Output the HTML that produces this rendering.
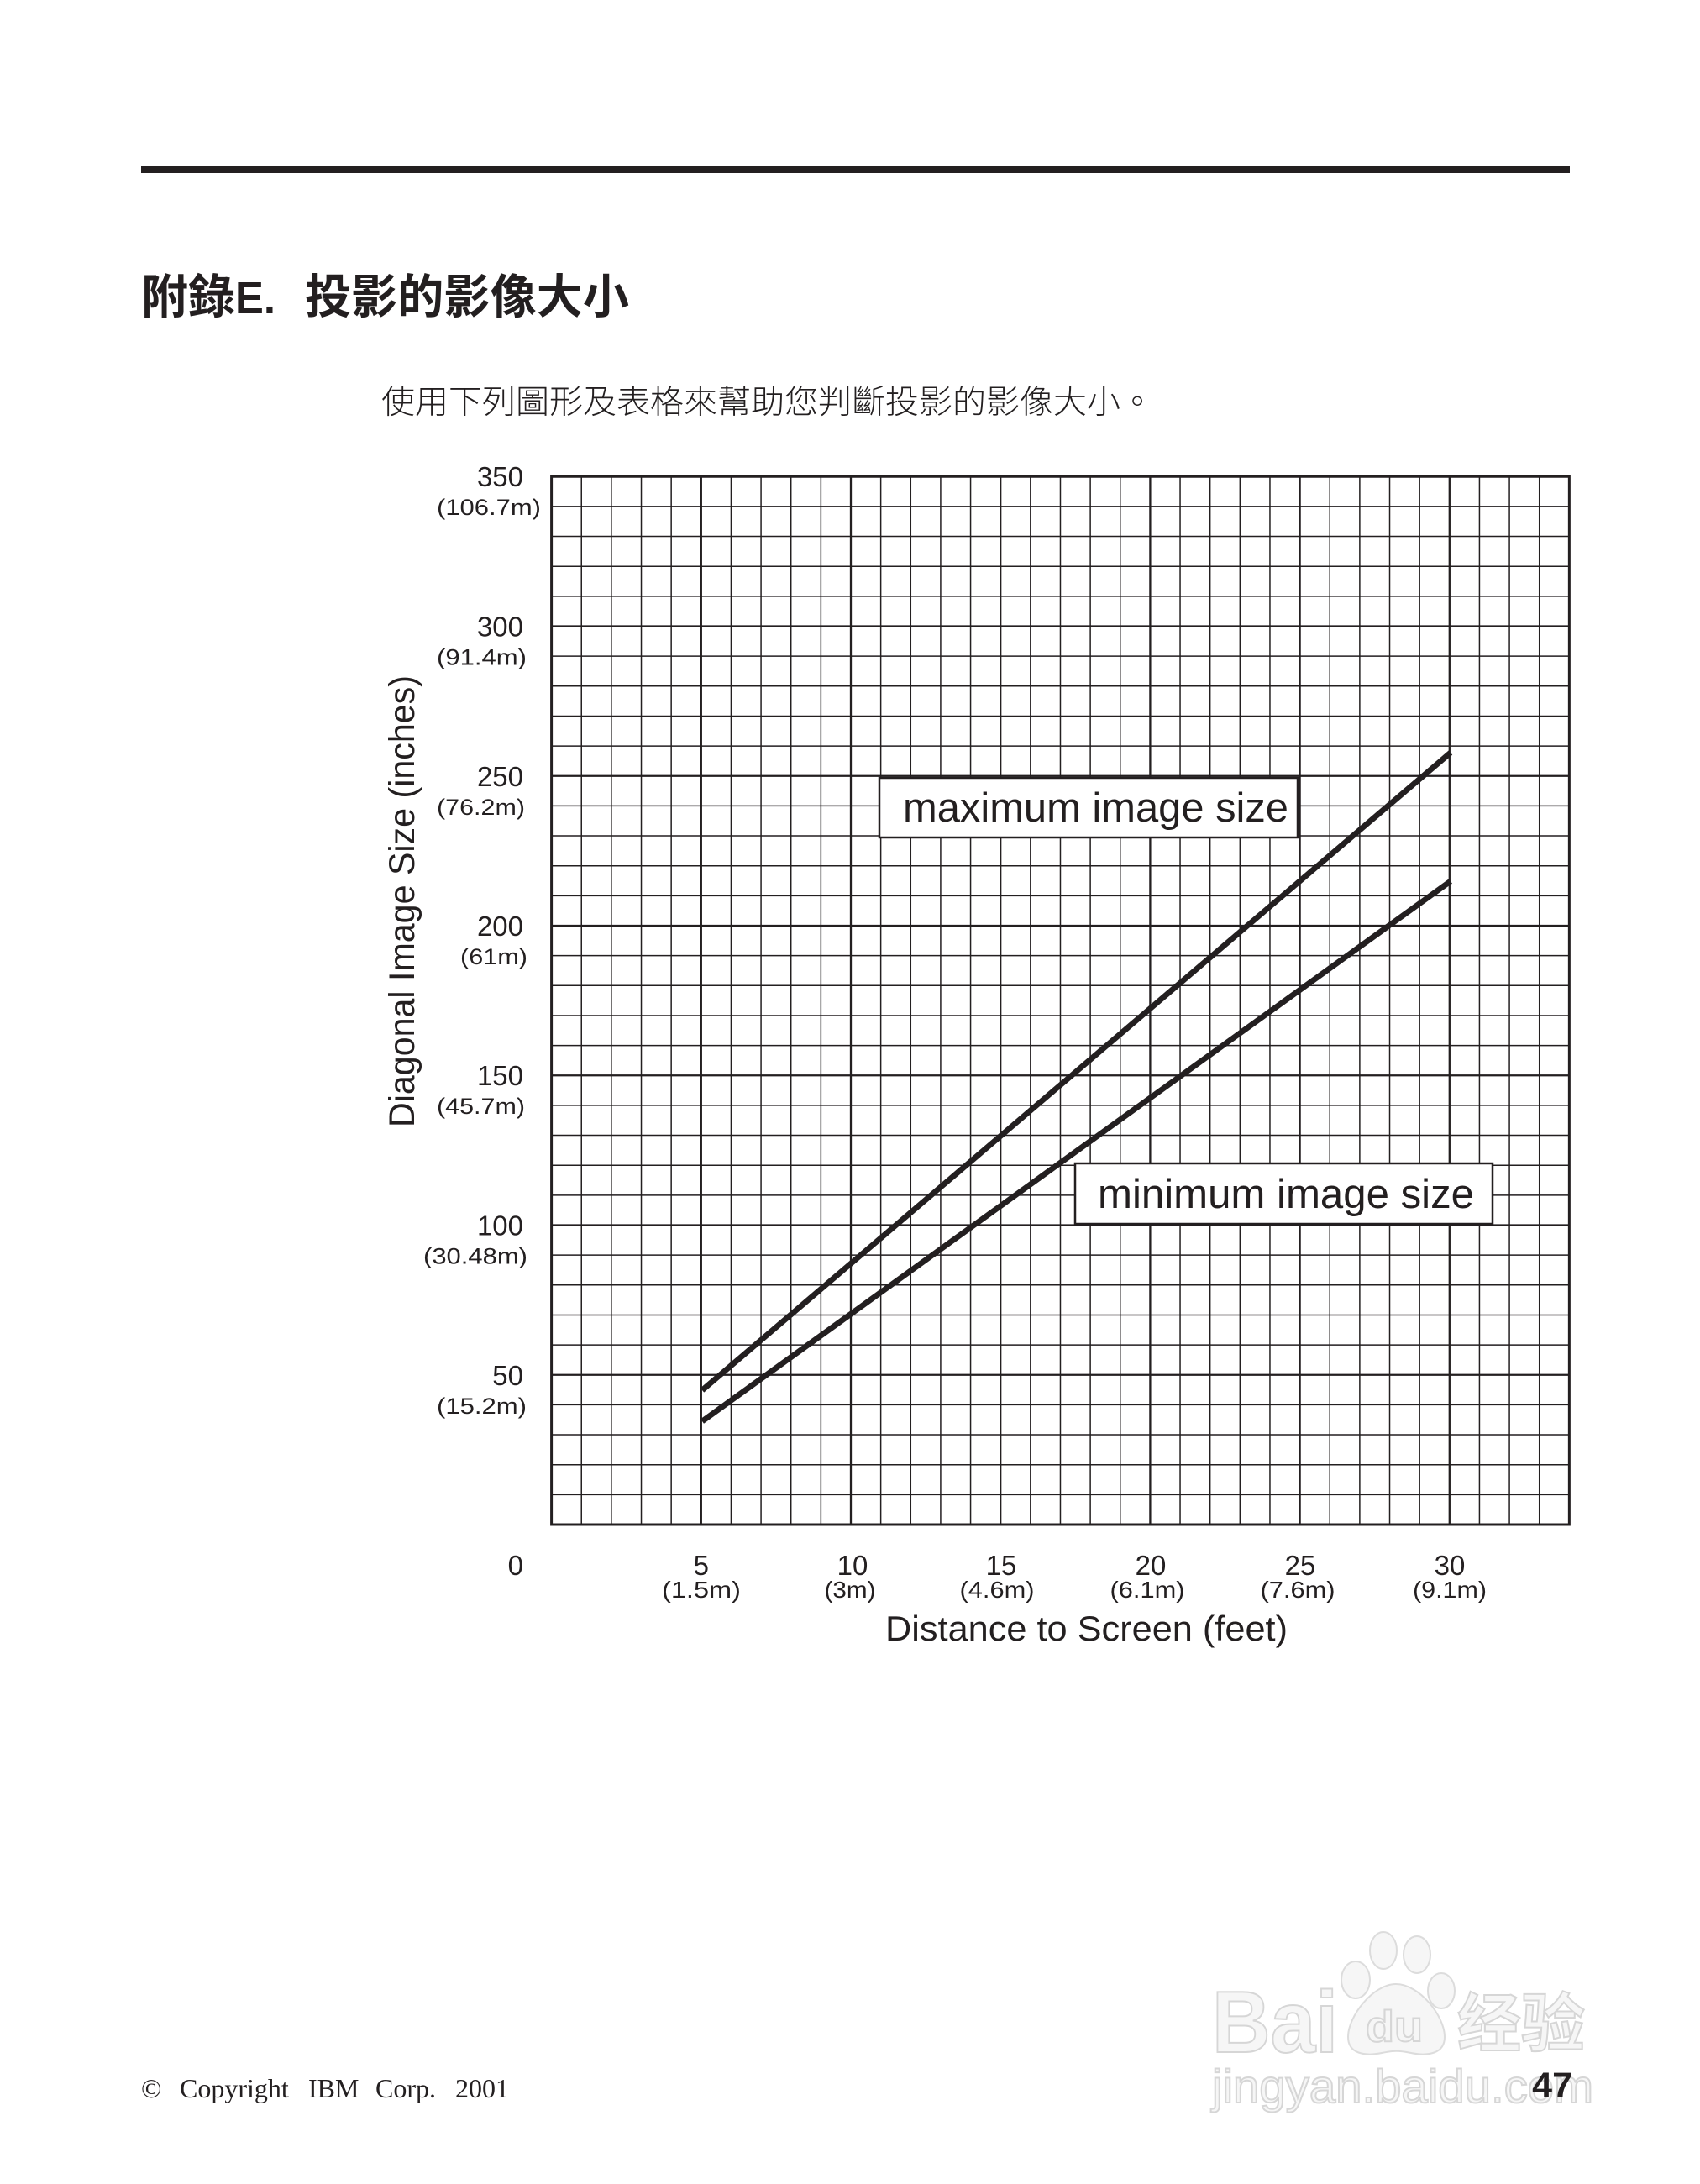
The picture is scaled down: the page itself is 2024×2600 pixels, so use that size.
<!DOCTYPE html>
<html>
<head>
<meta charset="utf-8">
<style>
html,body{margin:0;padding:0;background:#fff;}
body{width:2024px;height:2600px;overflow:hidden;}
svg{display:block;}
</style>
</head>
<body>
<svg width="2024" height="2600" viewBox="0 0 2024 2600" xmlns="http://www.w3.org/2000/svg">
<rect x="0" y="0" width="2024" height="2600" fill="#fff"/>

<!-- top rule -->
<rect x="168" y="198" width="1701" height="8" fill="#231f20"/>

<!-- title -->
<g fill="#231f20" font-family="'Liberation Sans','Noto Sans CJK TC','Noto Sans CJK SC',sans-serif" font-weight="bold">
<text x="168" y="373" font-size="56">附錄</text>
<text x="280" y="373" font-size="54" textLength="48" lengthAdjust="spacingAndGlyphs">E.</text>
<text x="363" y="373" font-size="56" textLength="386" lengthAdjust="spacingAndGlyphs">投影的影像大小</text>
</g>

<!-- subtitle -->
<text x="454" y="492" font-size="39" font-weight="300" fill="#231f20" font-family="'Liberation Sans','Noto Sans CJK TC','Noto Sans CJK SC',sans-serif" textLength="920" lengthAdjust="spacingAndGlyphs">使用下列圖形及表格來幫助您判斷投影的影像大小。</text>

<!-- grid minor -->
<path fill="none" stroke="#231f20" stroke-width="1.5" d="M692.24 567.25V1815M727.88 567.25V1815M763.52 567.25V1815M799.16 567.25V1815M870.44 567.25V1815M906.08 567.25V1815M941.72 567.25V1815M977.36 567.25V1815M1048.64 567.25V1815M1084.28 567.25V1815M1119.92 567.25V1815M1155.56 567.25V1815M1226.84 567.25V1815M1262.48 567.25V1815M1298.12 567.25V1815M1333.76 567.25V1815M1405.04 567.25V1815M1440.68 567.25V1815M1476.32 567.25V1815M1511.96 567.25V1815M1583.24 567.25V1815M1618.88 567.25V1815M1654.52 567.25V1815M1690.16 567.25V1815M1761.44 567.25V1815M1797.08 567.25V1815M1832.72 567.25V1815
M656.6 1779.35H1868.36M656.6 1743.7H1868.36M656.6 1708.05H1868.36M656.6 1672.4H1868.36M656.6 1601.1H1868.36M656.6 1565.45H1868.36M656.6 1529.8H1868.36M656.6 1494.15H1868.36M656.6 1422.85H1868.36M656.6 1387.2H1868.36M656.6 1351.55H1868.36M656.6 1315.9H1868.36M656.6 1244.6H1868.36M656.6 1208.95H1868.36M656.6 1173.3H1868.36M656.6 1137.65H1868.36M656.6 1066.35H1868.36M656.6 1030.7H1868.36M656.6 995.05H1868.36M656.6 959.4H1868.36M656.6 888.1H1868.36M656.6 852.45H1868.36M656.6 816.8H1868.36M656.6 781.15H1868.36M656.6 709.85H1868.36M656.6 674.2H1868.36M656.6 638.55H1868.36M656.6 602.9H1868.36"/>
<!-- grid major -->
<path fill="none" stroke="#231f20" stroke-width="2.3" d="M834.8 567.25V1815M1013 567.25V1815M1191.2 567.25V1815M1369.4 567.25V1815M1547.6 567.25V1815M1725.8 567.25V1815
M656.6 1636.75H1868.36M656.6 1458.5H1868.36M656.6 1280.25H1868.36M656.6 1102H1868.36M656.6 923.75H1868.36M656.6 745.5H1868.36"/>
<!-- border -->
<rect x="656.6" y="567.25" width="1211.76" height="1247.75" fill="none" stroke="#231f20" stroke-width="3"/>

<!-- data lines -->
<line x1="836" y1="1655" x2="1727" y2="896" stroke="#231f20" stroke-width="6.8"/>
<line x1="836" y1="1692" x2="1727" y2="1049" stroke="#231f20" stroke-width="6.8"/>

<!-- label boxes -->
<rect x="1047" y="926" width="498" height="71" fill="#fff" stroke="#231f20" stroke-width="2.5"/>
<text x="1075" y="978" font-size="49" fill="#231f20" font-family="'Liberation Sans',sans-serif" textLength="459" lengthAdjust="spacingAndGlyphs">maximum image size</text>
<rect x="1280" y="1385" width="497" height="72" fill="#fff" stroke="#231f20" stroke-width="2.5"/>
<text x="1307" y="1438" font-size="49" fill="#231f20" font-family="'Liberation Sans',sans-serif" textLength="448" lengthAdjust="spacingAndGlyphs">minimum image size</text>

<!-- y tick numbers -->
<g fill="#231f20" font-family="'Liberation Sans',sans-serif" font-size="33" text-anchor="end">
<text x="623" y="579">350</text>
<text x="623" y="757.5">300</text>
<text x="623" y="936">250</text>
<text x="623" y="1114">200</text>
<text x="623" y="1292">150</text>
<text x="623" y="1470.5">100</text>
<text x="623" y="1649">50</text>
<text x="623" y="1875">0</text>
</g>
<!-- y meter labels -->
<g fill="#231f20" font-family="'Liberation Sans',sans-serif" font-size="27">
<text x="520" y="613" textLength="124" lengthAdjust="spacingAndGlyphs">(106.7m)</text>
<text x="520" y="791.5" textLength="107" lengthAdjust="spacingAndGlyphs">(91.4m)</text>
<text x="520" y="970" textLength="105" lengthAdjust="spacingAndGlyphs">(76.2m)</text>
<text x="548" y="1148" textLength="80" lengthAdjust="spacingAndGlyphs">(61m)</text>
<text x="520" y="1326" textLength="105" lengthAdjust="spacingAndGlyphs">(45.7m)</text>
<text x="504" y="1504.5" textLength="124" lengthAdjust="spacingAndGlyphs">(30.48m)</text>
<text x="520" y="1683" textLength="107" lengthAdjust="spacingAndGlyphs">(15.2m)</text>
</g>

<!-- x tick numbers -->
<g fill="#231f20" font-family="'Liberation Sans',sans-serif" font-size="33" text-anchor="middle">
<text x="834.8" y="1875">5</text>
<text x="1015" y="1875">10</text>
<text x="1192" y="1875">15</text>
<text x="1370" y="1875">20</text>
<text x="1548" y="1875">25</text>
<text x="1726" y="1875">30</text>
</g>
<g fill="#231f20" font-family="'Liberation Sans',sans-serif" font-size="28" text-anchor="middle">
<text x="835" y="1902" textLength="94" lengthAdjust="spacingAndGlyphs">(1.5m)</text>
<text x="1012" y="1902" textLength="61" lengthAdjust="spacingAndGlyphs">(3m)</text>
<text x="1187" y="1902" textLength="89" lengthAdjust="spacingAndGlyphs">(4.6m)</text>
<text x="1366" y="1902" textLength="89" lengthAdjust="spacingAndGlyphs">(6.1m)</text>
<text x="1545" y="1902" textLength="89" lengthAdjust="spacingAndGlyphs">(7.6m)</text>
<text x="1726" y="1902" textLength="88" lengthAdjust="spacingAndGlyphs">(9.1m)</text>
</g>

<!-- axis titles -->
<text x="1293.5" y="1953" font-size="42" fill="#231f20" font-family="'Liberation Sans',sans-serif" text-anchor="middle" textLength="479" lengthAdjust="spacingAndGlyphs">Distance to Screen (feet)</text>
<text transform="translate(493,1073) rotate(-90)" x="0" y="0" font-size="43" fill="#231f20" font-family="'Liberation Sans',sans-serif" text-anchor="middle" textLength="538" lengthAdjust="spacingAndGlyphs">Diagonal Image Size (inches)</text>

<!-- footer -->
<g fill="#231f20" font-family="'Liberation Serif',serif" font-size="32">
<text x="168" y="2497">©</text>
<text x="214" y="2497">Copyright</text>
<text x="367" y="2497">IBM</text>
<text x="447" y="2497">Corp.</text>
<text x="542" y="2497">2001</text>
</g>

<!-- baidu watermark -->
<g fill="#f6f6f6" stroke="#dcdcdc" stroke-width="2">
<ellipse cx="1614" cy="2357" rx="17" ry="22"/>
<ellipse cx="1647" cy="2322" rx="16" ry="22"/>
<ellipse cx="1687" cy="2327" rx="16" ry="22"/>
<ellipse cx="1716" cy="2370" rx="16" ry="21"/>
<path d="M1662 2362 C1690 2362 1720 2400 1720 2425 C1720 2445 1700 2448 1680 2444 C1665 2441 1660 2441 1645 2444 C1625 2448 1605 2445 1605 2425 C1605 2400 1635 2362 1662 2362 Z"/>
</g>
<g fill="#f6f6f6" stroke="#d6d6d6" stroke-width="2" font-family="'Liberation Sans','Noto Sans CJK SC',sans-serif" font-weight="bold">
<text x="1443" y="2443" font-size="104" textLength="150" lengthAdjust="spacingAndGlyphs">Bai</text>
<text x="1626" y="2430" font-size="52" textLength="68" lengthAdjust="spacingAndGlyphs">du</text>
<text x="1735" y="2436" font-size="76" textLength="152" lengthAdjust="spacingAndGlyphs">经验</text>
<text x="1443" y="2503" font-size="56" font-weight="normal" textLength="454" lengthAdjust="spacingAndGlyphs">jingyan.baidu.com</text>
</g>

<!-- page number -->
<text x="1872" y="2497" font-size="43" font-weight="bold" fill="#231f20" font-family="'Liberation Sans',sans-serif" text-anchor="end">47</text>
</svg>
</body>
</html>
